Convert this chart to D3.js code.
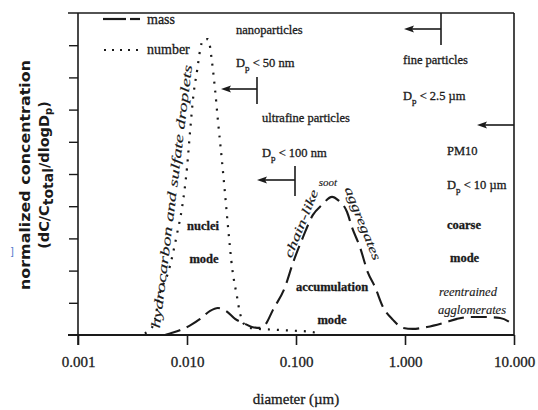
<!DOCTYPE html>
<html><head><meta charset="utf-8">
<script src="https://cdn.jsdelivr.net/npm/d3@7"></script>
<style>
html,body{margin:0;padding:0;background:#fff;}
svg{display:block;}
text{font-family:"Liberation Serif","Times New Roman",serif;fill:#1a1a1a;}
text.heavy{stroke:#1a1a1a;stroke-width:0.3px;}
text.light{stroke:#1a1a1a;stroke-width:0.15px;}
</style></head>
<body>
<svg id="chart" width="538" height="410"></svg>
<script>
// ---- data ----
const xTickValues = [0.001, 0.01, 0.1, 1, 10];
const xTickLabels = ["0.001", "0.010", "0.100", "1.000", "10.000"];
const yTickValues = [1, 2, 3, 4, 5, 6, 7, 8, 9];

const numberDiameter = [0.0041,0.0049,0.00565,0.0067,0.0081,0.0090,0.0100,0.0107,0.0114,0.0124,0.0132,0.0140,0.0156,0.0170,0.0181,0.0192,0.0209,0.0223,0.0238,0.0259,0.0288,0.0306,0.0355,0.042,0.0577,0.088,0.134,0.166];
const numberValue    = [0.05,0.3,1.3,1.93,3.14,3.95,5.19,6.37,7.39,8.23,8.85,9.16,9.19,8.45,7.61,6.68,5.43,4.41,3.35,2.11,1.18,0.68,0.25,0.2,0.17,0.14,0.1,0.05];

const massDiameter = [0.0063,0.0070,0.0086,0.0107,0.0132,0.0163,0.0192,0.0228,0.0276,0.034,0.0394,0.0468,0.052,0.0615,0.0793,0.0938,0.116,0.143,0.173,0.214,0.243,0.294,0.326,0.386,0.458,0.531,0.628,0.776,0.96,1.18,1.59,2.23,3.0,3.95,5.2,7.45,10];
const massValue    = [0,0.05,0.15,0.3,0.5,0.75,0.84,0.75,0.5,0.35,0.25,0.22,0.31,0.78,1.49,2.24,3.04,3.73,4.04,4.29,4.19,3.82,3.35,2.73,1.93,1.49,0.87,0.47,0.22,0.19,0.25,0.37,0.5,0.56,0.56,0.53,0.3];

// ---- layout ----
const svg = d3.select("#chart");
const L = 78, R = 514, T = 13, B = 335;
const x = d3.scaleLog().domain([0.001, 10]).range([L, R]);
const y = d3.scaleLinear().domain([0, 10]).range([B, T]);
const ink = "#1a1a1a";

// frame
const g = svg.append("g");
g.append("line").attr("x1", 68).attr("x2", R).attr("y1", T).attr("y2", T).attr("stroke", ink).attr("stroke-width", 1.6);
g.append("line").attr("x1", R).attr("x2", R).attr("y1", T).attr("y2", B).attr("stroke", ink).attr("stroke-width", 1.6);

// y axis (left, ticks outward)
const yAxis = d3.axisLeft(y).tickValues(yTickValues).tickSize(9).tickFormat("");
const ya = g.append("g").attr("transform", `translate(${L},0)`).call(yAxis);
ya.select(".domain").remove();
ya.selectAll("line").attr("stroke", ink).attr("stroke-width", 1.4);
g.append("line").attr("x1", L).attr("x2", L).attr("y1", T).attr("y2", B + 10).attr("stroke", ink).attr("stroke-width", 1.6);

// x axis
const xAxis = d3.axisBottom(x).tickValues(xTickValues).tickSize(10).tickFormat((d, i) => xTickLabels[i]);
const xa = g.append("g").attr("transform", `translate(0,${B})`).call(xAxis);
xa.select(".domain").remove();
xa.selectAll("line").attr("stroke", ink).attr("stroke-width", 1.6);
xa.selectAll("text").attr("y", 32).attr("dy", 0).attr("class", "heavy")
  .style("font-family", '"Liberation Serif",serif').style("font-size", "15px").attr("fill", ink);
g.append("line").attr("x1", 68).attr("x2", R).attr("y1", B).attr("y2", B).attr("stroke", ink).attr("stroke-width", 1.8);

// axis titles
svg.append("text").attr("class", "heavy").attr("x", 296).attr("y", 404).attr("text-anchor", "middle")
  .style("font-size", "15px").text("diameter (\u00b5m)");

const yl = svg.append("g");
yl.append("text").attr("transform", "translate(30,175) rotate(-90)").attr("text-anchor", "middle")
  .style("font-family", '"DejaVu Sans",sans-serif').style("font-weight", "bold").style("font-size", "14.5px")
  .attr("textLength", 230).attr("lengthAdjust", "spacingAndGlyphs")
  .text("normalized concentration");
const l2 = yl.append("text").attr("transform", "translate(49,175) rotate(-90)").attr("text-anchor", "middle")
  .style("font-family", '"DejaVu Sans",sans-serif').style("font-weight", "bold").style("font-size", "14.5px");
l2.append("tspan").text("(dC/C");
l2.append("tspan").attr("dy", 4).style("font-size", "14px").text("total");
l2.append("tspan").attr("dy", -4).text("/dlogD");
l2.append("tspan").attr("dy", 3).style("font-size", "10px").text("p");
l2.append("tspan").attr("dy", -3).text(")");

svg.append("text").attr("x", 10).attr("y", 255).style("font-family", '"DejaVu Sans",sans-serif')
  .style("font-size", "10px").style("fill", "#5577cc").text("]");

// ---- curves ----
const line = d3.line().x(d => x(d[0])).y(d => y(d[1])).curve(d3.curveMonotoneX);
const massData = massDiameter.map((d, i) => [d, massValue[i]]);
const numData = numberDiameter.map((d, i) => [d, numberValue[i]]);

svg.append("path").datum(numData).attr("d", line).attr("fill", "none")
  .attr("stroke", ink).attr("stroke-width", 2.2).attr("stroke-dasharray", "2,7");
svg.append("path").datum(massData).attr("d", line).attr("fill", "none")
  .attr("stroke", ink).attr("stroke-width", 2.1).attr("stroke-dasharray", "16,7");

// ---- legend ----
svg.append("line").attr("x1", 103).attr("x2", 126).attr("y1", 19).attr("y2", 19).attr("stroke", ink).attr("stroke-width", 2.2);
svg.append("line").attr("x1", 130).attr("x2", 140).attr("y1", 19).attr("y2", 19).attr("stroke", ink).attr("stroke-width", 2.2);
svg.append("text").attr("class", "heavy").attr("x", 147).attr("y", 24).style("font-size", "14px").text("mass");
svg.append("line").attr("x1", 104).attr("x2", 138).attr("y1", 50).attr("y2", 50).attr("stroke", ink)
  .attr("stroke-width", 2.2).attr("stroke-dasharray", "2,6");
svg.append("text").attr("class", "heavy").attr("x", 147).attr("y", 54).style("font-size", "14px").text("number");

// ---- annotations ----
function dpText(xp, yp, rest) {
  const t = svg.append("text").attr("class", "heavy").attr("x", xp).attr("y", yp).style("font-size", "12.5px");
  t.append("tspan").text("D");
  t.append("tspan").attr("dy", 4).style("font-size", "9px").text("p");
  t.append("tspan").attr("dy", -4).text(" < " + rest);
}
function label(xp, yp, s, opts = {}) {
  const t = svg.append("text").attr("class", opts.italic ? "light" : "heavy").attr("x", xp).attr("y", yp)
    .style("font-size", (opts.size || 12.5) + "px").text(s);
  if (opts.bold) t.style("font-weight", "bold");
  if (opts.italic) t.style("font-style", "italic");
  if (opts.anchor) t.attr("text-anchor", opts.anchor);
  if (opts.rot !== undefined) t.attr("transform", `rotate(${opts.rot},${xp},${yp})`);
  if (opts.len) t.attr("textLength", opts.len).attr("lengthAdjust", "spacingAndGlyphs");
  return t;
}
function arrow(x1, x2, yp, vTop, vBot) {
  svg.append("line").attr("x1", x1 + 6).attr("x2", x2).attr("y1", yp).attr("y2", yp).attr("stroke", ink).attr("stroke-width", 1.6);
  svg.append("path").attr("d", `M${x1},${yp} L${x1 + 10},${yp - 3.5} L${x1 + 8},${yp} L${x1 + 10},${yp + 3.5} Z`).attr("fill", ink);
  if (vTop !== undefined) svg.append("line").attr("x1", x2).attr("x2", x2).attr("y1", vTop).attr("y2", vBot).attr("stroke", ink).attr("stroke-width", 1.6);
}

label(236, 34, "nanoparticles");
dpText(236, 67, "50 nm");
arrow(221, 257, 89, 77, 104);
label(262, 122, "ultrafine particles");
dpText(262, 157, "100 nm");
arrow(257, 295, 180, 166, 196);
arrow(404, 441, 29, 13, 45);
label(403, 64, "fine particles");
dpText(403, 100, "2.5 \u00b5m");
arrow(477, 514, 125);
label(447, 155, "PM10");
dpText(447, 189, "10 \u00b5m");
label(447, 229, "coarse", {bold: true});
label(450, 262, "mode", {bold: true});
label(468, 296, "reentrained", {italic: true, anchor: "middle"});
label(472, 314, "agglomerates", {italic: true, anchor: "middle"});

label(203, 230, "nuclei", {bold: true, anchor: "middle"});
label(204, 263, "mode", {bold: true, anchor: "middle"});
label(332, 291, "accumulation", {bold: true, anchor: "middle"});
label(332, 324, "mode", {bold: true, anchor: "middle"});

label(176, 197, "hydrocarbon and sulfate droplets", {italic: true, anchor: "middle", rot: -83, len: 265, size: 13});
label(305, 225, "chain-like", {italic: true, anchor: "middle", rot: -68, len: 72, size: 12.5});
label(328, 186, "soot", {italic: true, anchor: "middle", size: 11});
label(359, 225, "aggregates", {italic: true, anchor: "middle", rot: 68, len: 78, size: 12.5});
</script>
</body></html>
